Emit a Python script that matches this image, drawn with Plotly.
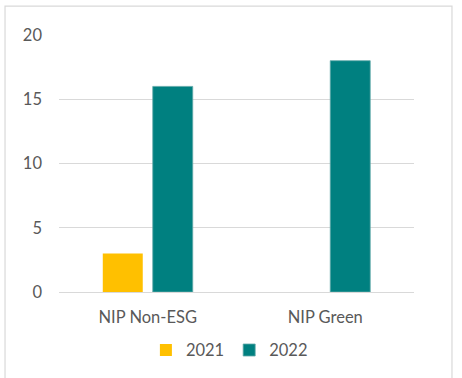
import plotly.graph_objects as go

categories = ["NIP Non-ESG", "NIP Green"]
values_2021 = [3, 0]
values_2022 = [16, 18]
y_ticks = [0, 5, 10, 15, 20]

GOLD = "#FFC000"
TEAL = "#008080"
GRID = "#D9D9D9"
TEXT = "#595959"
FONT = "Lato"
SIZE = 16.5

fig = go.Figure()
fig.add_trace(go.Bar(name="2021", x=categories, y=values_2021,
                     marker=dict(color=GOLD, line=dict(width=0))))
fig.add_trace(go.Bar(name="2022", x=categories, y=values_2022,
                     marker=dict(color=TEAL, line=dict(color="#5FA8A8", width=0.8))))

fig.update_layout(
    width=462, height=378,
    margin=dict(l=59, r=48, t=35, b=85),
    paper_bgcolor="white", plot_bgcolor="white",
    barmode="group", bargap=0.437, bargroupgap=0.2,
    font=dict(family=FONT, size=SIZE, color=TEXT),
    showlegend=True,
    legend=dict(orientation="h", x=0.48, xanchor="center", y=-0.222, yanchor="middle",
                font=dict(family=FONT, size=SIZE, color=TEXT),
                itemwidth=30, traceorder="normal"),
    xaxis=dict(showgrid=False, showline=False, zeroline=False, ticks="",
               ticklabelstandoff=13, tickfont=dict(family=FONT, size=SIZE, color=TEXT)),
    yaxis=dict(range=[0, 20], tickvals=y_ticks, showgrid=True, gridcolor=GRID, gridwidth=1,
               zeroline=True, zerolinecolor=GRID, zerolinewidth=1, showline=False,
               ticks="", ticklabelstandoff=16,
               tickfont=dict(family=FONT, size=SIZE, color=TEXT)),
    shapes=[dict(type="rect", xref="paper", yref="paper",
                 x0=-0.152, x1=1.107, y0=-0.40, y1=1.112,
                 line=dict(color=GRID, width=1.2), fillcolor="rgba(0,0,0,0)", layer="below")],
)

fig.write_html("out.html")
